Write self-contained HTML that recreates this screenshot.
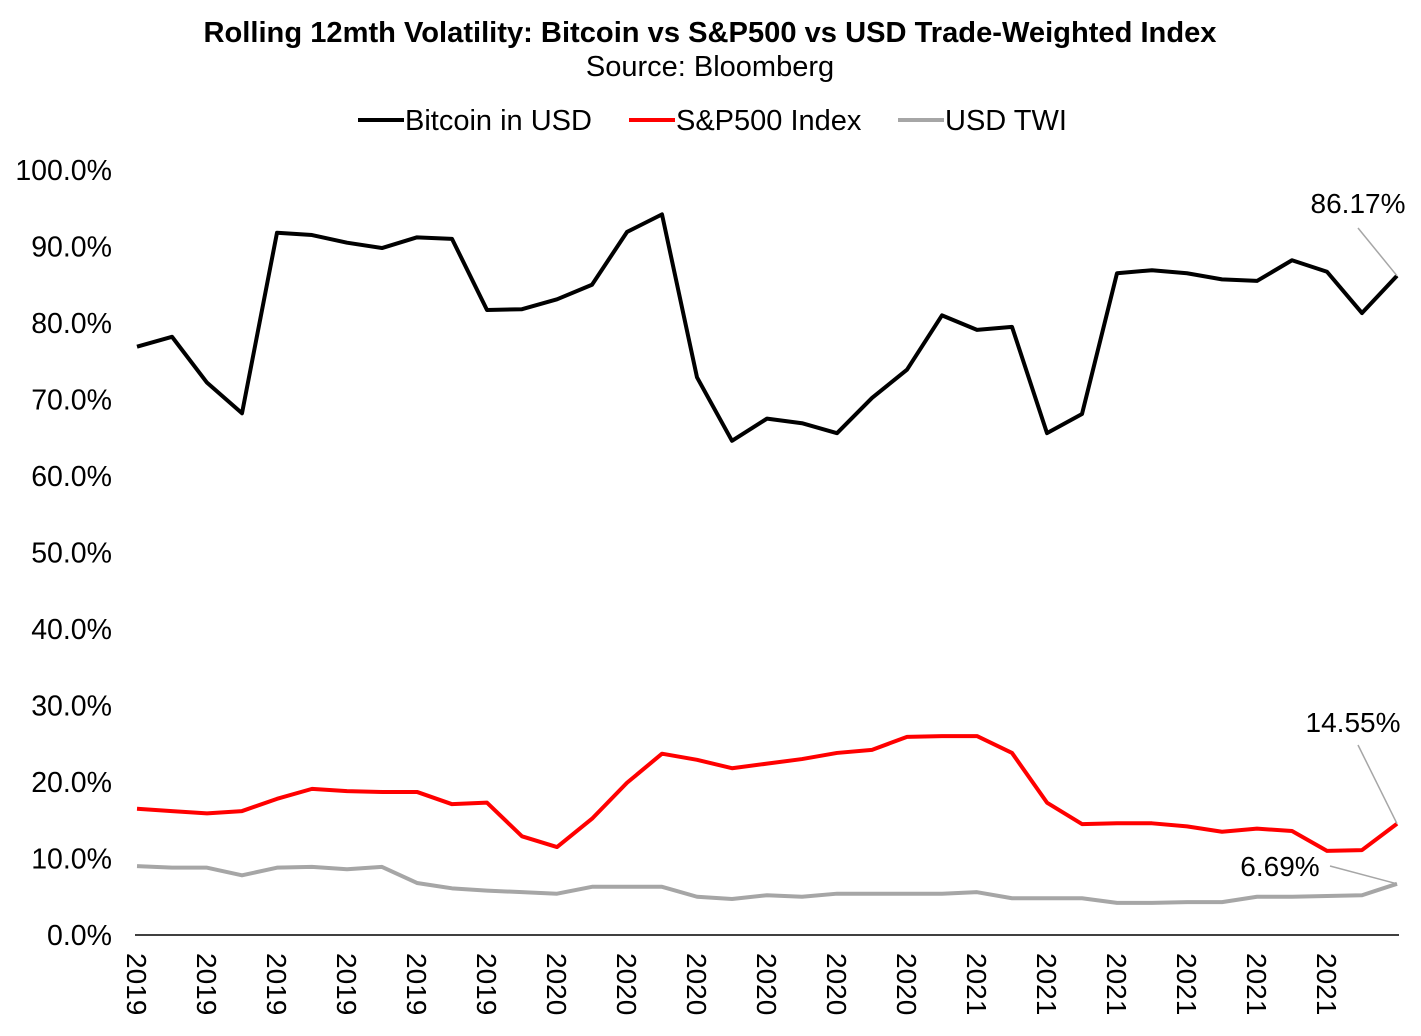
<!DOCTYPE html>
<html><head><meta charset="utf-8"><style>
body{margin:0;background:#fff;font-family:"Liberation Sans",Arial,sans-serif}
svg text{font-family:"Liberation Sans",Arial,sans-serif}
</style></head><body>
<svg id="chart" width="1421" height="1031" xmlns="http://www.w3.org/2000/svg">
<text x="710" y="42" text-anchor="middle" font-size="29" font-weight="bold" textLength="1013" lengthAdjust="spacingAndGlyphs">Rolling 12mth Volatility: Bitcoin vs S&amp;P500 vs USD Trade-Weighted Index</text>
<text x="710" y="76" text-anchor="middle" font-size="29">Source: Bloomberg</text>
<g font-size="29">
<g><line x1="358" y1="120" x2="404" y2="120" stroke="#000" stroke-width="4"/><text x="405" y="130">Bitcoin in USD</text></g>
<g><line x1="629" y1="120" x2="675" y2="120" stroke="#f00" stroke-width="4"/><text x="676" y="130">S&amp;P500 Index</text></g>
<g><line x1="898" y1="120" x2="944" y2="120" stroke="#a6a6a6" stroke-width="4"/><text x="945" y="130">USD TWI</text></g>
</g>
<g id="yaxis"></g>
<g id="xaxis"></g>
<g id="series"></g>
<g id="ann"></g>
</svg>
<script>
const xLabels=["2019","2019","2019","2019","2019","2019","2020","2020","2020","2020","2020","2020","2021","2021","2021","2021","2021","2021"];
const yTicks=[0,10,20,30,40,50,60,70,80,90,100];
const bitcoin=[76.9,78.2,72.2,68.2,91.8,91.5,90.5,89.8,91.2,91.0,81.7,81.8,83.1,85.0,91.9,94.2,72.9,64.6,67.5,66.9,65.6,70.2,73.9,81.0,79.1,79.5,65.6,68.1,86.5,86.9,86.5,85.7,85.5,88.2,86.7,81.3,86.17];
const sp500=[16.5,16.2,15.9,16.2,17.8,19.1,18.8,18.7,18.7,17.1,17.3,12.9,11.5,15.2,19.9,23.7,22.9,21.8,22.4,23.0,23.8,24.2,25.9,26.0,26.0,23.8,17.3,14.5,14.6,14.6,14.2,13.5,13.9,13.6,11.0,11.1,14.55];
const usdTwi=[9.0,8.8,8.8,7.8,8.8,8.9,8.6,8.9,6.8,6.1,5.8,5.6,5.4,6.3,6.3,6.3,5.0,4.7,5.2,5.0,5.4,5.4,5.4,5.4,5.6,4.8,4.8,4.8,4.2,4.2,4.3,4.3,5.0,5.0,5.1,5.2,6.69];
const NS="http://www.w3.org/2000/svg";
const n=bitcoin.length;
const x=i=>137+i*(1397-137)/(n-1);
const y=v=>935-v*7.65;
function mk(tag,attrs,parent){const e=document.createElementNS(NS,tag);for(const k in attrs)e.setAttribute(k,attrs[k]);parent.appendChild(e);return e;}
const ya=document.getElementById('yaxis');
yTicks.forEach(t=>{const e=mk('text',{x:112,y:y(t)+10,'text-anchor':'end','font-size':'28.5'},ya);


e.textContent=t.toFixed(1)+'%';});
const xa=document.getElementById('xaxis');
const ax=mk('line',{x1:x(0)-2,y1:935,x2:1399,y2:935,stroke:'#000','stroke-width':1.5},xa);


xLabels.forEach((l,k)=>{const xx=x(k*2)-10;const e=mk('text',{x:0,y:0,'font-size':'28',transform:`translate(${xx},953) rotate(90)`},xa);


e.textContent=l;});
const sg=document.getElementById('series');
[[usdTwi,'#a6a6a6','usd-twi-line'],[sp500,'#f00','sp500-line'],[bitcoin,'#000','bitcoin-line']].forEach(([d,c,nm])=>{
const p=mk('polyline',{points:d.map((v,i)=>x(i)+','+y(v)).join(' '),fill:'none',stroke:c,'stroke-width':4,'stroke-linejoin':'round'},sg);

});
const an=document.getElementById('ann');
[[bitcoin,1358,213,1358,228,'bitcoin-last-label'],[sp500,1353,732,1358,745,'sp500-last-label'],[usdTwi,1280,876,1330,866,'usd-twi-last-label']].forEach(([d,tx,ty,lx,ly,nm])=>{
const v=d[n-1];
const l=mk('line',{x1:lx,y1:ly,x2:x(n-1),y2:y(v),stroke:'#a6a6a6','stroke-width':1.5},an);


const t=mk('text',{x:tx,y:ty,'text-anchor':'middle','font-size':'28'},an);


t.textContent=v.toFixed(2)+'%';});
</script>
</body></html>
